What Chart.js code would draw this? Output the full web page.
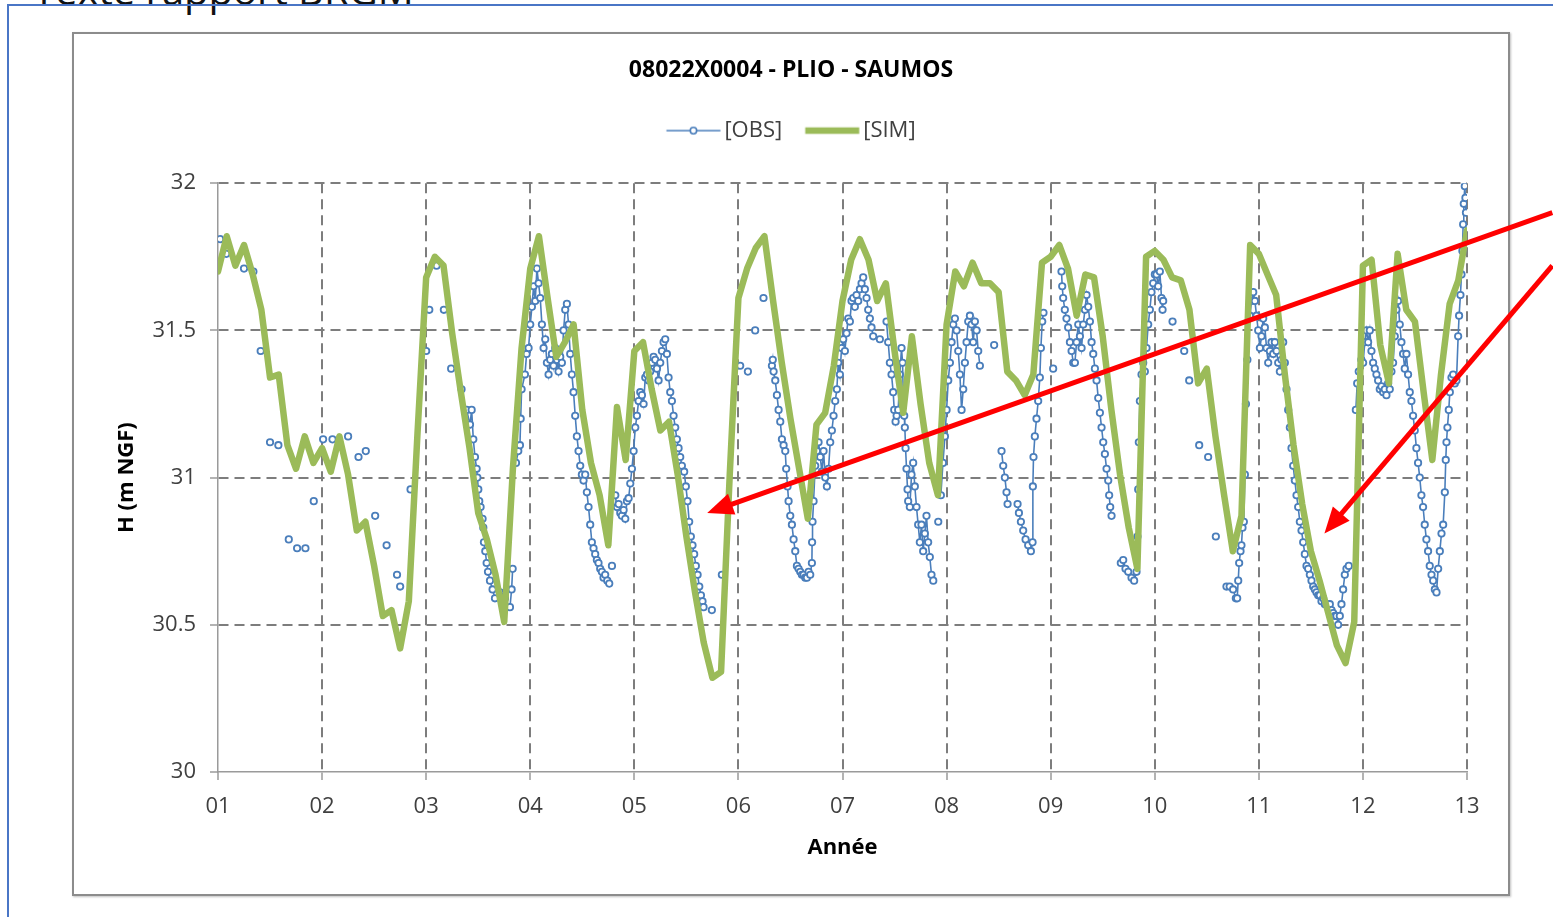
<!DOCTYPE html>
<html>
<head>
<meta charset="utf-8">
<script src="https://cdn.jsdelivr.net/npm/chart.js@4/dist/chart.umd.min.js"></script>
<style>
  html, body { margin: 0; padding: 0; background: #fff; width: 1553px; height: 917px; overflow: hidden; position: relative; font-family: 'Open Sans', sans-serif; }
  #doc { position: absolute; left: 33px; top: -30px; font-size: 40px; line-height: 40px; color: #111; white-space: nowrap; }
  #frame { position: absolute; left: 7px; top: 4px; width: 1700px; height: 1000px; border-left: 2px solid #4a76c6; border-top: 2px solid #4a76c6; }
  #box { position: absolute; left: 72px; top: 32px; width: 1434px; height: 860px; border: 2px solid #8c8c8c; box-shadow: 1px 1px 2px rgba(0,0,0,0.25); background: #fff; }
  #c { position: absolute; left: 0; top: 0; }
</style>
</head>
<body>
<div id="doc">Texte rapport BRGM</div>
<div id="frame"></div>
<div id="box"></div>
<canvas id="c" width="1553" height="917"></canvas>
<script>
// simulated level, one value per month from year 01 to year 13
const simStart = 1;
const simH = [
  31.70, 31.82, 31.72, 31.79, 31.69, 31.57, 31.34, 31.35, 31.11, 31.03, 31.14, 31.05,
  31.10, 31.02, 31.14, 31.01, 30.82, 30.85, 30.70, 30.53, 30.55, 30.42, 30.58, 31.15,
  31.68, 31.75, 31.72, 31.49, 31.29, 31.10, 30.88, 30.79, 30.67, 30.51, 31.03, 31.44,
  31.71, 31.82, 31.61, 31.41, 31.46, 31.52, 31.23, 31.05, 30.94, 30.77, 31.24, 31.06,
  31.43, 31.46, 31.30, 31.16, 31.19, 31.01, 30.80, 30.61, 30.44, 30.32, 30.34, 31.01,
  31.61, 31.71, 31.78, 31.82, 31.60, 31.39, 31.20, 31.03, 30.86, 31.18, 31.22, 31.38,
  31.60, 31.74, 31.81, 31.74, 31.60, 31.66, 31.43, 31.22, 31.48, 31.25, 31.05, 30.94,
  31.52, 31.70, 31.65, 31.73, 31.66, 31.66, 31.63, 31.36, 31.33, 31.28, 31.35, 31.73,
  31.75, 31.79, 31.71, 31.55, 31.69, 31.68, 31.48, 31.23, 31.01, 30.83, 30.69, 31.75,
  31.77, 31.74, 31.68, 31.67, 31.57, 31.32, 31.37, 31.14, 30.94, 30.75, 30.87, 31.79,
  31.76, 31.69, 31.62, 31.35, 31.11, 30.91, 30.75, 30.65, 30.54, 30.43, 30.37, 30.51,
  31.72, 31.74, 31.45, 31.32, 31.76, 31.57, 31.53, 31.29, 31.06, 31.35, 31.59, 31.67,
  31.84
];

// observed level: date (year) and height, null = gap in the record
const obsT = [
  1.02, null, 1.08, null, 1.25, null, 1.34, null, 1.41, null, 1.50, null, 1.58, null,
  1.68, null, 1.76, null, 1.84, null, 1.92, null, 2.01, null, 2.10, null, 2.25, null,
  2.35, null, 2.42, null, 2.51, null, 2.62, null, 2.72, null, 2.75, null, 2.85, null,
  3.00, null, 3.03, null, 3.10, null, 3.17, null, 3.24, null, 3.34, null,
  3.389, 3.421, 3.437, 3.453, 3.469, 3.485, 3.492, 3.501, 3.510, 3.523, 3.542, 3.549,
  3.555, 3.568, 3.581, 3.594, 3.613, 3.638, 3.661, null, 3.709, null, 3.757, null,
  3.805, 3.821, 3.831, null,
  3.863, 3.885, 3.901, 3.908, 3.917, 3.949, 3.965, 3.984, 4.000, 4.016, 4.032, 4.048,
  4.064, 4.080, 4.096, 4.112, 4.128, 4.144, 4.160, 4.176, 4.192, 4.208, 4.224, 4.240,
  4.256, 4.272, 4.288, 4.304, 4.320, 4.336, 4.352, 4.368, 4.384, 4.400, 4.416, 4.432,
  4.448, 4.464, 4.480, 4.496, 4.512, 4.528, 4.544, 4.560, 4.576, 4.592, 4.608, 4.624,
  4.640, 4.656, 4.672, 4.688, 4.704, 4.720, 4.740, 4.759, null, 4.785, null,
  4.817, 4.833, 4.849, 4.865, 4.880, 4.897, 4.913, 4.929, 4.945, 4.961, 4.977, 4.993,
  5.009, 5.025, 5.041, 5.057, 5.073, 5.089, 5.105, 5.121, 5.137, 5.153, 5.169, 5.185,
  5.201, 5.217, 5.233, 5.249, 5.265, 5.281, 5.297, 5.313, 5.329, 5.345, 5.361, 5.377,
  5.393, 5.409, 5.425, 5.441, 5.457, 5.479, 5.495, 5.511, 5.527, 5.543, 5.559, 5.575,
  5.591, 5.608, 5.624, 5.640, 5.655, 5.665, null,
  5.745, null, 5.841, null, 6.017, null, 6.091, null, 6.161, null, 6.241, null,
  6.322, 6.330, 6.338, 6.354, 6.370, 6.386, 6.402, 6.418, 6.434, 6.450, 6.459, 6.472,
  6.482, 6.498, 6.514, 6.530, 6.546, 6.562, 6.578, 6.594, 6.610, 6.626, 6.642, 6.658,
  6.674, 6.690, 6.706, 6.708, 6.712, 6.722, 6.738, 6.754, 6.770, 6.786, 6.802, 6.818,
  6.834, 6.850, 6.866, 6.882, 6.898, 6.914, 6.930, 6.946, 6.959, 6.975, 6.991, 7.007,
  7.023, 7.039, 7.055, 7.071, 7.087, 7.103, 7.119, 7.135, 7.151, 7.167, 7.183, 7.199,
  7.215, 7.231, 7.247, 7.263, 7.279, 7.295, null, 7.359, null,
  7.423, 7.439, 7.455, 7.471, 7.487, 7.497, 7.510, 7.520, 7.535, 7.551, 7.567, 7.577,
  7.583, 7.593, 7.599, 7.606, 7.615, 7.625, 7.631, 7.647, 7.663, 7.679, 7.695, 7.711,
  7.727, 7.743, 7.759, 7.775, 7.791, 7.807, 7.823, 7.839, 7.855, 7.872, null, 7.920, null,
  7.945, 7.965, 7.984, 8.000, 8.016, 8.032, 8.048, 8.064, 8.080, 8.096, 8.112, 8.128,
  8.144, 8.160, 8.176, 8.192, 8.208, 8.224, 8.240, 8.256, 8.272, 8.288, 8.304, 8.320,
  null, 8.457, null,
  8.528, 8.544, 8.560, 8.576, 8.586, null,
  8.682, 8.695, 8.714, 8.736, 8.759, 8.784, 8.810, 8.826, 8.829, 8.835, 8.848, 8.864,
  8.880, 8.896, 8.906, 8.919, 8.931, null, 9.024, null,
  9.104, 9.111, 9.120, 9.136, 9.152, 9.168, 9.185, 9.201, 9.217, 9.233, 9.249, 9.265,
  9.281, 9.297, 9.313, 9.329, 9.345, 9.361, 9.377, 9.393, 9.409, 9.425, 9.441, 9.457,
  9.473, 9.489, 9.505, 9.521, 9.537, 9.553, 9.562, 9.572, 9.585, null,
  9.674, 9.697, 9.719, 9.745, 9.777, 9.802, 9.825, 9.834, 9.841, 9.847, 9.857, 9.873,
  9.889, 9.905, 9.921, 9.937, 9.953, 9.969, 9.985, 10.001, 10.017, 10.033, 10.049, 10.065,
  10.075, 10.081, null,
  10.171, null, 10.283, null, 10.331, null, 10.427, null, 10.513, null, 10.587, null,
  10.689, 10.720, 10.753, 10.779, 10.792, 10.802, 10.811, 10.824, 10.833, 10.843, 10.856, 10.866,
  10.876, 10.890, 10.914, 10.930, 10.946, 10.962, 10.978, 10.994, 11.010, 11.026, 11.042, 11.058,
  11.074, 11.090, 11.106, 11.122, 11.138, 11.154, 11.170, 11.186, 11.202, 11.218, 11.234, 11.250,
  11.266, 11.282, 11.298, 11.314, 11.330, 11.346, 11.362, 11.378, 11.394, 11.410, 11.426, 11.442,
  11.458, 11.474, 11.490, 11.506, 11.522, 11.538, 11.554, 11.570, 11.586, 11.602, 11.618, 11.634,
  11.650, 11.666, 11.682, 11.698, 11.714, 11.730, 11.746, 11.762, 11.778, 11.794, 11.810, 11.826,
  11.842, 11.864, null,
  11.932, 11.945, 11.960, 11.985, 12.002, 12.018, 12.034, 12.050, 12.066, 12.082, 12.098, 12.114,
  12.130, 12.146, 12.162, 12.178, 12.194, 12.210, 12.226, 12.242, 12.258, 12.274, 12.290, 12.306,
  12.322, 12.338, 12.354, 12.370, 12.386, 12.402, 12.418, 12.434, 12.450, 12.466, 12.482, 12.498,
  12.514, 12.530, 12.546, 12.562, 12.578, 12.594, 12.610, 12.626, 12.642, 12.659, 12.675, 12.691,
  12.707, 12.723, 12.739, 12.755, 12.771, 12.787, 12.796, 12.803, 12.812, 12.825, 12.835, 12.851,
  12.867, 12.883, 12.899, 12.915, 12.924, 12.937, 12.947, 12.956, 12.963, 12.969, 12.979, 12.985,
  12.990
];
const obsH = [
  31.81, null, 31.76, null, 31.71, null, 31.70, null, 31.43, null, 31.12, null, 31.11, null,
  30.79, null, 30.76, null, 30.76, null, 30.92, null, 31.13, null, 31.13, null, 31.14, null,
  31.07, null, 31.09, null, 30.87, null, 30.77, null, 30.67, null, 30.63, null, 30.96, null,
  31.43, null, 31.57, null, 31.72, null, 31.57, null, 31.37, null, 31.30, null,
  31.23, 31.18, 31.23, 31.13, 31.07, 31.03, 31.00, 30.96, 30.92, 30.90, 30.86, 30.83,
  30.78, 30.75, 30.71, 30.68, 30.65, 30.62, 30.59, null, 30.61, null, 30.59, null,
  30.56, 30.62, 30.69, null,
  31.05, 31.09, 31.11, 31.20, 31.30, 31.35, 31.42, 31.44, 31.52, 31.58, 31.65, 31.60,
  31.71, 31.66, 31.61, 31.52, 31.44, 31.47, 31.39, 31.35, 31.40, 31.42, 31.38, 31.44,
  31.40, 31.36, 31.41, 31.39, 31.50, 31.57, 31.59, 31.52, 31.42, 31.35, 31.29, 31.21,
  31.14, 31.09, 31.04, 31.01, 30.99, 31.01, 30.95, 30.90, 30.84, 30.78, 30.76, 30.74,
  30.72, 30.71, 30.69, 30.68, 30.66, 30.67, 30.65, 30.64, null, 30.70, null,
  30.94, 30.90, 30.91, 30.88, 30.87, 30.89, 30.86, 30.92, 30.93, 30.98, 31.03, 31.09,
  31.17, 31.21, 31.26, 31.29, 31.28, 31.25, 31.34, 31.35, 31.33, 31.36, 31.39, 31.41,
  31.40, 31.37, 31.33, 31.39, 31.43, 31.46, 31.47, 31.42, 31.34, 31.29, 31.26, 31.21,
  31.17, 31.13, 31.10, 31.07, 31.04, 31.02, 30.97, 30.92, 30.85, 30.80, 30.77, 30.74,
  30.70, 30.67, 30.63, 30.60, 30.58, 30.56, null,
  30.55, null, 30.67, null, 31.38, null, 31.36, null, 31.50, null, 31.61, null,
  31.38, 31.40, 31.36, 31.33, 31.28, 31.23, 31.19, 31.13, 31.11, 31.09, 31.03, 30.97,
  30.92, 30.87, 30.84, 30.79, 30.75, 30.70, 30.69, 30.68, 30.67, 30.67, 30.66, 30.66,
  30.68, 30.67, 30.71, 30.78, 30.85, 30.92, 31.04, 31.09, 31.12, 31.07, 31.02, 31.09,
  31.00, 30.97, 31.03, 31.12, 31.16, 31.21, 31.26, 31.30, 31.39, 31.35, 31.44, 31.47,
  31.43, 31.49, 31.54, 31.53, 31.60, 31.61, 31.58, 31.62, 31.60, 31.64, 31.66, 31.68,
  31.64, 31.61, 31.57, 31.54, 31.51, 31.48, null, 31.47, null,
  31.53, 31.46, 31.39, 31.35, 31.29, 31.23, 31.19, 31.21, 31.23, 31.35, 31.44, 31.39,
  31.29, 31.21, 31.17, 31.10, 31.03, 30.96, 30.92, 30.90, 31.01, 31.05, 30.97, 30.90,
  30.84, 30.78, 30.84, 30.75, 30.81, 30.87, 30.78, 30.73, 30.67, 30.65, null, 30.85, null,
  30.94, 31.05, 31.14, 31.23, 31.33, 31.39, 31.46, 31.52, 31.54, 31.50, 31.43, 31.35,
  31.23, 31.30, 31.39, 31.46, 31.53, 31.55, 31.52, 31.46, 31.53, 31.50, 31.43, 31.38,
  null, 31.45, null,
  31.09, 31.04, 31.00, 30.95, 30.91, null,
  30.91, 30.88, 30.85, 30.82, 30.79, 30.77, 30.75, 30.78, 30.97, 31.07, 31.14, 31.20,
  31.26, 31.34, 31.44, 31.53, 31.56, null, 31.37, null,
  31.70, 31.65, 31.61, 31.57, 31.54, 31.51, 31.46, 31.43, 31.39, 31.39, 31.46, 31.52,
  31.48, 31.44, 31.52, 31.57, 31.62, 31.58, 31.53, 31.46, 31.42, 31.37, 31.33, 31.27,
  31.22, 31.17, 31.12, 31.08, 31.03, 30.99, 30.94, 30.90, 30.87, null,
  30.71, 30.72, 30.69, 30.68, 30.66, 30.65, 30.68, 30.80, 30.96, 31.12, 31.26, 31.35,
  31.39, 31.36, 31.44, 31.52, 31.57, 31.63, 31.66, 31.69, 31.69, 31.65, 31.70, 31.61,
  31.57, 31.60, null,
  31.53, null, 31.43, null, 31.33, null, 31.11, null, 31.07, null, 30.80, null,
  30.63, 30.63, 30.62, 30.59, 30.59, 30.65, 30.71, 30.75, 30.77, 30.83, 30.85, 31.01,
  31.25, 31.40, 31.55, 31.60, 31.63, 31.60, 31.55, 31.50, 31.44, 31.48, 31.54, 31.51,
  31.44, 31.39, 31.43, 31.46, 31.42, 31.46, 31.43, 31.39, 31.36, 31.40, 31.46, 31.39,
  31.30, 31.23, 31.17, 31.10, 31.04, 30.99, 30.94, 30.90, 30.85, 30.82, 30.78, 30.74,
  30.70, 30.69, 30.67, 30.65, 30.63, 30.62, 30.61, 30.60, 30.60, 30.58, 30.59, 30.57,
  30.57, 30.56, 30.57, 30.55, 30.54, 30.53, 30.53, 30.50, 30.53, 30.57, 30.62, 30.67,
  30.69, 30.70, null,
  31.23, 31.32, 31.36, 31.40, 31.39, 31.46, 31.50, 31.46, 31.50, 31.43, 31.39, 31.37,
  31.35, 31.33, 31.30, 31.31, 31.29, 31.30, 31.28, 31.32, 31.30, 31.36, 31.39, 31.48,
  31.57, 31.60, 31.52, 31.46, 31.42, 31.37, 31.42, 31.35, 31.29, 31.26, 31.21, 31.16,
  31.10, 31.05, 31.00, 30.94, 30.90, 30.84, 30.79, 30.75, 30.70, 30.67, 30.65, 30.62,
  30.61, 30.69, 30.75, 30.81, 30.84, 30.95, 31.06, 31.12, 31.17, 31.23, 31.29, 31.34,
  31.35, 31.32, 31.33, 31.48, 31.55, 31.62, 31.69, 31.77, 31.86, 31.93, 31.99, 31.95,
  31.90
];

// annotation arrows (red), tip and tail in data units
const arrowTipT = [5.70, 11.63];
const arrowTipH = [30.88, 30.81];
const arrowTailT = [13.82, 13.82];
const arrowTailH = [31.90, 31.72];

const obsColor = '#4a7ebb';
const simColor = '#9bbb59';
const gridColor = '#7d7d7d';
const axisColor = '#9a9a9a';

const simData = simH.map((h, i) => ({ x: simStart + i / 12, y: h }));
const obsData = obsT.map((t, i) => ({ x: t, y: obsH[i] }));

function legendIcon(kind) {
  const c = document.createElement('canvas');
  c.width = 108; c.height = 12;
  const g = c.getContext('2d');
  if (kind === 0) {
    g.strokeStyle = obsColor; g.lineWidth = 1.6;
    g.beginPath(); g.moveTo(30.5, 6); g.lineTo(84.5, 6); g.stroke();
    g.fillStyle = '#fff';
    g.beginPath(); g.arc(57.5, 6, 3.2, 0, Math.PI * 2); g.fill(); g.stroke();
  } else {
    g.strokeStyle = simColor; g.lineWidth = 6.5;
    g.beginPath(); g.moveTo(30.5, 6); g.lineTo(84.5, 6); g.stroke();
  }
  return c;
}
const icons = [legendIcon(0), legendIcon(1)];

const arrows = {
  id: 'arrows',
  afterDraw(chart) {
    const ctx = chart.ctx, xs = chart.scales.x, ys = chart.scales.y;
    ctx.save();
    ctx.strokeStyle = '#ff0000';
    ctx.fillStyle = '#ff0000';
    ctx.lineWidth = 5;
    for (let i = 0; i < arrowTipT.length; i++) {
      const x1 = xs.getPixelForValue(arrowTailT[i]), y1 = ys.getPixelForValue(arrowTailH[i]);
      const x2 = xs.getPixelForValue(arrowTipT[i]), y2 = ys.getPixelForValue(arrowTipH[i]);
      const len = Math.hypot(x2 - x1, y2 - y1);
      const ux = (x2 - x1) / len, uy = (y2 - y1) / len;
      const bx = x2 - ux * 26, by = y2 - uy * 26;
      ctx.beginPath();
      ctx.moveTo(x1, y1);
      ctx.lineTo(bx + ux * 4, by + uy * 4);
      ctx.stroke();
      ctx.beginPath();
      ctx.moveTo(x2, y2);
      ctx.lineTo(bx - uy * 11, by + ux * 11);
      ctx.lineTo(bx + uy * 11, by - ux * 11);
      ctx.closePath();
      ctx.fill();
    }
    ctx.restore();
  }
};

Chart.defaults.font.family = "'Open Sans', sans-serif";
Chart.defaults.color = '#404040';

const hideFirst = c => (c.index === 0 ? 'rgba(0,0,0,0)' : gridColor);

new Chart(document.getElementById('c'), {
  type: 'line',
  data: {
    datasets: [
      {
        label: '[OBS]',
        data: obsData,
        xAxisID: 'x', yAxisID: 'y',
        order: 1,
        borderColor: obsColor,
        borderWidth: 1.6,
        pointRadius: 3.2,
        pointBorderWidth: 1.8,
        pointBackgroundColor: '#ffffff',
        pointBorderColor: obsColor,
        spanGaps: false,
        fill: false,
        tension: 0
      },
      {
        label: '[SIM]',
        data: simData,
        xAxisID: 'x', yAxisID: 'y',
        order: 0,
        borderColor: simColor,
        borderWidth: 6.5,
        pointRadius: 0,
        borderJoinStyle: 'round',
        borderCapStyle: 'round',
        fill: false,
        tension: 0
      }
    ]
  },
  options: {
    responsive: false,
    animation: false,
    devicePixelRatio: 1,
    layout: { padding: { left: 73, right: 44, top: 33, bottom: 22 } },
    plugins: {
      title: {
        display: true,
        text: '08022X0004 - PLIO - SAUMOS',
        color: '#000',
        font: { size: 23, weight: 'bold' },
        padding: { top: 24, bottom: 12 }
      },
      legend: {
        display: true,
        labels: {
          color: '#404040',
          font: { size: 22 },
          usePointStyle: true,
          pointStyleWidth: 47,
          padding: 23,
          generateLabels(chart) {
            const items = Chart.defaults.plugins.legend.labels.generateLabels(chart);
            items.sort((a, b) => a.datasetIndex - b.datasetIndex);
            items.forEach(it => { it.pointStyle = icons[it.datasetIndex]; });
            return items;
          }
        }
      },
      tooltip: { enabled: false }
    },
    scales: {
      x: {
        type: 'linear',
        position: 'bottom',
        min: 1, max: 13,
        afterFit(s) { s.height = 123; },
        ticks: {
          stepSize: 1, autoSkip: false, maxRotation: 0, padding: 14,
          color: '#404040', font: { size: 22 },
          callback: v => String(v).padStart(2, '0')
        },
        grid: { color: hideFirst, lineWidth: 2, tickLength: 8, tickColor: axisColor, tickWidth: 1.5 },
        border: { display: true, color: axisColor, width: 1.5, dash: [10, 6] },
        title: { display: true, text: 'Année', color: '#000', font: { size: 22, weight: 'bold' }, padding: { top: 0, bottom: 34 } }
      },
      y: {
        type: 'linear',
        position: 'left',
        min: 30, max: 32,
        afterFit(s) { s.width = 145; },
        ticks: { stepSize: 0.5, padding: 14, color: '#404040', font: { size: 22 }, callback: v => String(v) },
        grid: { color: hideFirst, lineWidth: 2, tickLength: 8, tickColor: axisColor, tickWidth: 1.5 },
        border: { display: true, color: axisColor, width: 1.5, dash: [10, 6] },
        title: { display: true, text: 'H (m NGF)', color: '#000', font: { size: 22, weight: 'bold' }, padding: { top: 41, bottom: 0 } }
      },
      xTop: {
        type: 'linear', axis: 'x', position: 'top', min: 0, max: 1,
        afterFit(s) { s.height = 31.6; },
        grid: { display: false }, ticks: { display: false }, border: { display: false }
      },
      yRight: {
        type: 'linear', axis: 'y', position: 'right', min: 0, max: 1,
        afterFit(s) { s.width = 42; },
        grid: { display: false }, ticks: { display: false }, border: { display: false }
      }
    }
  },
  plugins: [arrows]
});
</script>
</body>
</html>
